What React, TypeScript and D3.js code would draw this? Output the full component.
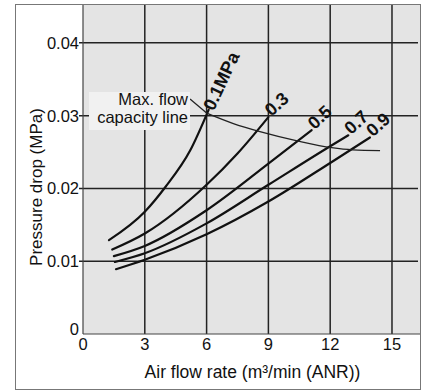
import React from "react";
import * as d3 from "d3";

const xTicks = [0, 3, 6, 9, 12, 15];
const yTicks = [0, 0.01, 0.02, 0.03, 0.04];
const yTickLabels = ["0", "0.01", "0.02", "0.03", "0.04"];

const seriesNames = ["0.1MPa", "0.3", "0.5", "0.7", "0.9"];
const s01: [number, number][] = [[1.26, 0.0129], [3.0, 0.0168], [4.0, 0.0202], [5.2, 0.0252], [6.1, 0.0308]];
const s03: [number, number][] = [[1.42, 0.0116], [3.0, 0.0138], [6.0, 0.0205], [7.5, 0.0248], [9.0, 0.0298]];
const s05: [number, number][] = [[1.5, 0.0107], [3.0, 0.0121], [6.0, 0.017], [9.0, 0.0234], [11.1, 0.028]];
const s07: [number, number][] = [[1.55, 0.0099], [3.0, 0.0111], [6.0, 0.0152], [9.0, 0.0205], [12.0, 0.0258], [12.88, 0.0273]];
const s09: [number, number][] = [[1.6, 0.0089], [3.0, 0.0102], [6.0, 0.0137], [9.0, 0.0182], [12.0, 0.0235], [13.93, 0.027]];
const seriesData = [s01, s03, s05, s07, s09];
const maxFlow: [number, number][] = [[6.03, 0.0303], [7.3, 0.0289], [8.59, 0.0278], [10.45, 0.0265], [12.07, 0.0256], [13.1, 0.0253], [14.42, 0.0252]];
const maxFlowLabel = ["Max. flow", "capacity line"];
const xTitle = "Air flow rate (m³/min (ANR))";
const yTitle = "Pressure drop (MPa)";

const W = 422, H = 391;
const plot = { left: 83, top: 5, right: 420, bottom: 334 };
const font = "'Liberation Sans', Arial, Helvetica, sans-serif";

export default function App() {
  const x = d3.scaleLinear().domain([0, 16.36]).range([plot.left, plot.right]);
  const y = d3.scaleLinear().domain([0, 0.0452]).range([plot.bottom, plot.top]);
  const line = d3.line<[number, number]>().x(d => x(d[0])).y(d => y(d[1])).curve(d3.curveMonotoneX);
  const rotations = [-65, -42, -43, -43, -42];
  const mfStart = maxFlow[0];
  return (
    <svg width={W} height={H} style={{ position: "absolute", left: 0, top: 0, background: "#fff" }} fontFamily={font}>
      <rect x={15.5} y={4.5} width={405} height={385} fill="#fff" stroke="#777" strokeWidth={1} />
      <rect x={plot.left} y={plot.top} width={plot.right - plot.left} height={plot.bottom - plot.top} fill="#e4e4e4" />
      {xTicks.filter(t => t > 0).map(t => (
        <line key={"gx" + t} x1={x(t)} x2={x(t)} y1={plot.top} y2={plot.bottom} stroke="#222" strokeWidth={1.5} />
      ))}
      {yTicks.filter(t => t > 0).map(t => (
        <line key={"gy" + t} x1={plot.left - 4} x2={plot.right - 2} y1={y(t)} y2={y(t)} stroke="#222" strokeWidth={1.5} />
      ))}
      <line x1={plot.left} x2={plot.left} y1={plot.top} y2={plot.bottom} stroke="#444" strokeWidth={1.2} />
      <line x1={plot.left} x2={plot.right} y1={plot.bottom} y2={plot.bottom} stroke="#444" strokeWidth={1.2} />
      {xTicks.map(t => (
        <text key={"tx" + t} x={x(t)} y={350} fontSize={16.5} textAnchor="middle" fill="#111">{t}</text>
      ))}
      {yTicks.map((t, i) => (
        <text key={"ty" + t} x={plot.left - 4} y={t === 0 ? y(t) + 1 : y(t) + 6} fontSize={16.5} textAnchor="end" fill="#111">{yTickLabels[i]}</text>
      ))}
      <text x={(plot.left + plot.right) / 2 + 1} y={378} fontSize={17.5} textAnchor="middle" fill="#111">{xTitle}</text>
      <text transform={`translate(42,${187}) rotate(-90)`} fontSize={17} textAnchor="middle" fill="#111">{yTitle}</text>
      {seriesData.map((s, i) => (
        <path key={"s" + i} d={line(s) || ""} fill="none" stroke="#111" strokeWidth={2.2} strokeLinecap="round" />
      ))}
      <path d={line(maxFlow) || ""} fill="none" stroke="#222" strokeWidth={1.3} />
      <line x1={190} y1={99} x2={x(mfStart[0])} y2={y(mfStart[1])} stroke="#222" strokeWidth={1.3} />
      <rect x={89} y={92} width={101} height={38} fill="#f1f1f1" />
      <text x={188} y={105} fontSize={16.5} textAnchor="end" fill="#111">{maxFlowLabel[0]}</text>
      <text x={188} y={123} fontSize={16.5} textAnchor="end" fill="#111">{maxFlowLabel[1]}</text>
      {seriesData.map((s, i) => {
        const e = s[s.length - 1];
        const px = x(e[0]) + (i === 0 ? 5 : 3);
        const py = y(e[1]) + (i === 0 ? 2 : 0);
        return (
          <text key={"l" + i} transform={`translate(${px},${py}) rotate(${rotations[i]})`} fontSize={18} fontWeight="bold" fill="#111">{seriesNames[i]}</text>
        );
      })}
    </svg>
  );
}
